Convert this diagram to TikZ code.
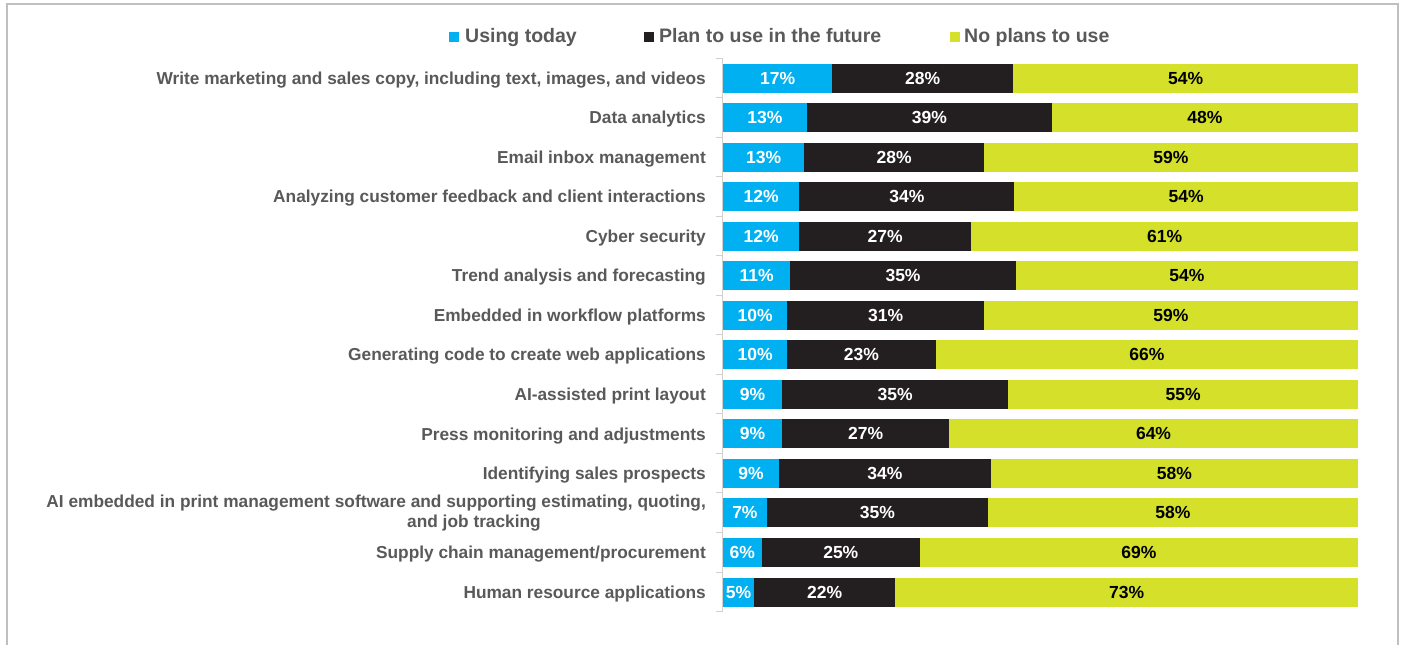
\documentclass[tikz,border=0pt]{standalone}
\usepackage{fontspec}
\setmainfont{Liberation Sans}
\definecolor{cusing}{HTML}{00B0F0}
\definecolor{cplan}{HTML}{231F20}
\definecolor{cnone}{HTML}{D4E02A}
\definecolor{labgray}{HTML}{595959}
\definecolor{framegray}{HTML}{BFBFBF}
\definecolor{axisgray}{HTML}{D0D0D0}
\begin{document}
\begin{tikzpicture}
  [x=1pt,y=-1pt,every node/.style={inner sep=0pt,font=\bfseries}]
  \tikzstyle{catlab} = [anchor=base east,align=right,text=labgray,font=\bfseries\fontsize{17.3}{20}\selectfont]
  \tikzstyle{vallab} = [font=\bfseries\fontsize{17.5}{20}\selectfont]
  \tikzstyle{leglab} = [anchor=base west,text=labgray,font=\bfseries\fontsize{19.5}{22}\selectfont]
  \tikzstyle{legkey} = [minimum size=10pt,anchor=south west]
  \useasboundingbox (0,0) rectangle (1403,645);
  \fill[white] (0,0) rectangle (1403,645);
  % frame
  \draw[framegray,line width=1.5pt] (7,645) -- (7,4) -- (1398,4) -- (1398,645);
  % legend
  \node[legkey,fill=cusing] (ku) at (449,42) {};
  \node[leglab] (lu) at (465,42) {Using today};
  \node[legkey,fill=cplan] (kp) at (644,42) {};
  \node[leglab] (lp) at (659,42) {Plan to use in the future};
  \node[legkey,fill=cnone] (kn) at (950,42) {};
  \node[leglab] (ln) at (964,42) {No plans to use};
  % axis
  \coordinate (atop) at (722,58);
  \coordinate (abot) at (722,611.6);
  \draw[axisgray,line width=1pt] (atop) -- (abot);
  \foreach \k in {0,...,14}
    \draw[axisgray,line width=1pt] (716,58+\k*39.54) -- (722,58+\k*39.54);
  % bars
\foreach \i/\a/\b/\u/\p/\n in {1/17.2/45.7/17/28/54,2/13.2/51.8/13/39/48,3/12.8/41.1/13/28/59,
  4/12.0/45.9/12/34/54,5/12.0/39.1/12/27/61,6/10.6/46.1/11/35/54,7/10.1/41.1/10/31/59,
  8/10.1/33.5/10/23/66,9/9.3/44.9/9/35/55,10/9.3/35.6/9/27/64,11/8.8/42.2/9/34/58,
  12/6.9/41.7/7/35/58,13/6.1/31.0/6/25/69,14/4.9/27.1/5/22/73} {
   \pgfmathsetmacro\yc{78+(\i-1)*39.54}
   \pgfmathsetmacro\xa{723+6.35*\a}
   \pgfmathsetmacro\xb{723+6.35*\b}
   \fill[cusing] (723,\yc-14.5) rectangle (\xa,\yc+14.5);
   \fill[cplan] (\xa,\yc-14.5) rectangle (\xb,\yc+14.5);
   \fill[cnone] (\xb,\yc-14.5) rectangle (1358,\yc+14.5);
   \node[vallab,white] (u\i) at ({(723+\xa)/2},\yc) {\u\%};
   \node[vallab,white] (p\i) at ({(\xa+\xb)/2},\yc) {\p\%};
   \node[vallab,black] (n\i) at ({(\xb+1358)/2},\yc) {\n\%};
}
  % categories
\foreach \i/\t in {1/{Write marketing and sales copy, including text, images, and videos},
  2/{Data analytics},3/{Email inbox management},
  4/{Analyzing customer feedback and client interactions},5/{Cyber security},
  6/{Trend analysis and forecasting},7/{Embedded in workflow platforms},
  8/{Generating code to create web applications},9/{AI-assisted print layout},
  10/{Press monitoring and adjustments},11/{Identifying sales prospects},
  13/{Supply chain management/procurement},14/{Human resource applications}}
   \node[catlab] (c\i) at (706,84.2+\i*39.54-39.54) {\t};
  \node[catlab,anchor=east] (c12) at (706,513)
    {AI embedded in print management software and supporting estimating, quoting,\\and job tracking\hspace{165pt}\null};
\end{tikzpicture}
\end{document}
